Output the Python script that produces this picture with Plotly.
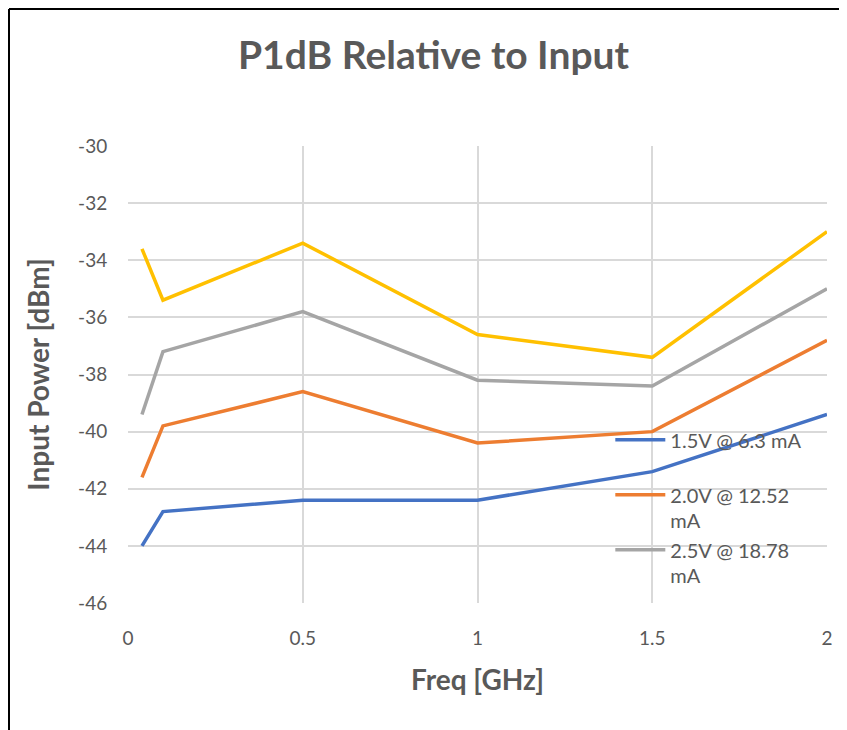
import plotly.graph_objects as go

freq = [0.04, 0.1, 0.5, 1.0, 1.5, 2.0]
v15 = [-44.0, -42.8, -42.4, -42.4, -41.4, -39.4]
v20 = [-41.6, -39.8, -38.6, -40.4, -40.0, -36.8]
v25 = [-39.4, -37.2, -35.8, -38.2, -38.4, -35.0]
v30 = [-33.6, -35.4, -33.4, -36.6, -37.4, -33.0]

names = ["1.5V @ 6.3 mA<br> ", "2.0V @ 12.52<br>mA", "2.5V @ 18.78<br>mA", "3.0V"]
colors = ["#4472C4", "#ED7D31", "#A5A5A5", "#FFC000"]
series = [v15, v20, v25, v30]
x_ticks = [0, 0.5, 1, 1.5, 2]
x_ticklabels = ["0", "0.5", "1", "1.5", "2"]
y_ticks = [-46, -44, -42, -40, -38, -36, -34, -32, -30]
y_ticklabels = ["-46", "-44", "-42", "-40", "-38", "-36", "-34", "-32", "-30"]

FONT = "Lato, 'Open Sans', sans-serif"
GRAY = "#595959"
CLEAR = "rgba(0,0,0,0)"

W, H = 831, 722
fig = go.Figure()
for i, (vals, nm, col) in enumerate(zip(series, names, colors)):
    fig.add_trace(go.Scatter(
        x=freq, y=vals, mode="lines", name=nm,
        line=dict(color=col, width=3.5),
        showlegend=(i < 3),
    ))

fig.update_layout(
    width=W, height=H,
    paper_bgcolor="white", plot_bgcolor="white",
    margin=dict(l=120, r=12, t=138, b=127, autoexpand=False),
    font=dict(family=FONT, color=GRAY, size=19),
    title=dict(text="<b>P1dB Relative to Input</b>", x=425.5 / W, xanchor="center",
               y=1 - 47 / H, yanchor="middle",
               font=dict(size=39, color=GRAY, family=FONT)),
    xaxis=dict(range=[0, 2], tickvals=x_ticks, ticktext=x_ticklabels,
               showgrid=True, gridcolor="#D9D9D9", gridwidth=1.5,
               zeroline=False, showline=False,
               ticks="outside", ticklen=18, tickcolor=CLEAR, automargin=False,
               tickfont=dict(size=19, color=GRAY),
               title=dict(text="<b>Freq [GHz]</b>", font=dict(size=28, color=GRAY), standoff=22)),
    yaxis=dict(range=[-46, -30], tickvals=y_ticks, ticktext=y_ticklabels,
               showgrid=True, gridcolor="#D9D9D9", gridwidth=1.5,
               zeroline=False, showline=False,
               ticks="outside", ticklen=16, tickcolor=CLEAR, automargin=False,
               tickfont=dict(size=19, color=GRAY),
               title=dict(text="<b>Input Power [dBm]</b>", font=dict(size=28, color=GRAY), standoff=20)),
    legend=dict(x=0.69, y=0.40, xanchor="left", yanchor="top",
                bgcolor=CLEAR, font=dict(size=20, color=GRAY),
                itemwidth=50, tracegroupgap=0, valign="top"),
    showlegend=True,
)

# outer frame: only the left and top edges are visible in the window
left_x = (1 - 120) / 699
top_y = 1 + (138 - 1) / 457
fig.add_shape(type="line", xref="paper", yref="paper",
              x0=left_x, x1=left_x, y0=-0.5, y1=top_y,
              line=dict(color="black", width=2), layer="above")
fig.add_shape(type="line", xref="paper", yref="paper",
              x0=left_x, x1=1.5, y0=top_y, y1=top_y,
              line=dict(color="black", width=2), layer="above")

fig.write_html("out.html")
